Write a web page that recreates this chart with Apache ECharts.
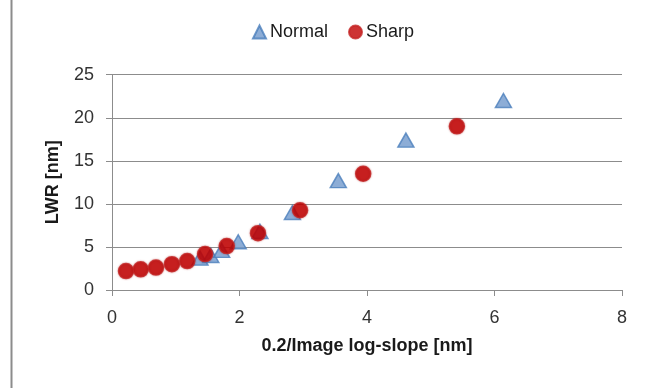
<!DOCTYPE html>
<html><head><meta charset="utf-8">
<script src="https://cdn.jsdelivr.net/npm/echarts@6/dist/echarts.min.js"></script>
<style>html,body{margin:0;padding:0;background:#fff}#c{width:648px;height:388px}</style>
</head><body><div id="c"></div>
<script>
const normalX = [1.38, 1.55, 1.72, 1.98, 2.32, 2.83, 3.55, 4.61, 6.14];
const normalY = [3.7, 4.0, 4.6, 5.6, 6.8, 9.0, 12.7, 17.4, 22.0];
const sharpX = [0.22, 0.45, 0.69, 0.94, 1.18, 1.46, 1.80, 2.29, 2.95, 3.94, 5.41];
const sharpY = [2.2, 2.4, 2.6, 3.0, 3.36, 4.17, 5.1, 6.6, 9.26, 13.5, 19.0];
const seriesNames = ['Normal', 'Sharp'];
const xTitle = '0.2/Image log-slope [nm]';
const yTitle = 'LWR [nm]';

const zip = (a, b) => a.map((v, i) => [v, b[i]]);
const font = 'Liberation Sans, Arial, sans-serif';
const chart = echarts.init(document.getElementById('c'), null, {renderer: 'canvas'});
chart.setOption({
  animation: false,
  backgroundColor: '#fff',
  graphic: [{type: 'line', shape: {x1: 11.5, y1: 0, x2: 11.5, y2: 388}, style: {stroke: '#8c8c8c', lineWidth: 2}}],
  legend: {
    top: 18, left: 247, itemGap: 20, itemWidth: 13, itemHeight: 13,
    textStyle: {fontFamily: font, fontSize: 18, color: '#1a1a1a', padding: [0, 0, 0, -1]},
    data: seriesNames
  },
  grid: {left: 112, right: 26, top: 74.7, bottom: 98, containLabel: false},
  xAxis: {
    type: 'value', min: 0, max: 8, interval: 2,
    name: xTitle, nameLocation: 'middle', nameGap: 47,
    nameTextStyle: {fontFamily: font, fontSize: 18, fontWeight: 'bold', color: '#1a1a1a'},
    axisLine: {lineStyle: {color: '#8c8c8c', width: 1}},
    axisTick: {show: true, length: 6, lineStyle: {color: '#8c8c8c'}},
    axisLabel: {fontFamily: font, fontSize: 18, color: '#333', margin: 19},
    splitLine: {show: false}
  },
  yAxis: {
    type: 'value', min: 0, max: 25, interval: 5,
    name: yTitle, nameLocation: 'middle', nameGap: 50, nameRotate: 90,
    nameTextStyle: {fontFamily: font, fontSize: 18, fontWeight: 'bold', color: '#1a1a1a'},
    axisLine: {show: true, lineStyle: {color: '#8c8c8c', width: 1}},
    axisTick: {show: true, length: 6, lineStyle: {color: '#8c8c8c'}},
    axisLabel: {fontFamily: font, fontSize: 18, color: '#333', margin: 18},
    splitLine: {show: true, lineStyle: {color: '#8c8c8c', width: 1}}
  },
  series: [
    {
      name: seriesNames[0], type: 'scatter', symbol: 'triangle', symbolSize: [16, 14],
      itemStyle: {color: '#7098cc', borderColor: '#4a7ebb', borderWidth: 1.5},
      data: zip(normalX, normalY), z: 2
    },
    {
      name: seriesNames[1], type: 'scatter', symbol: 'circle', symbolSize: 15,
      itemStyle: {color: '#c00000', borderColor: '#c42424', borderWidth: 1.5, shadowColor: 'rgba(160,0,0,0.5)', shadowBlur: 2},
      data: zip(sharpX, sharpY), z: 3
    }
  ]
});
</script></body></html>
